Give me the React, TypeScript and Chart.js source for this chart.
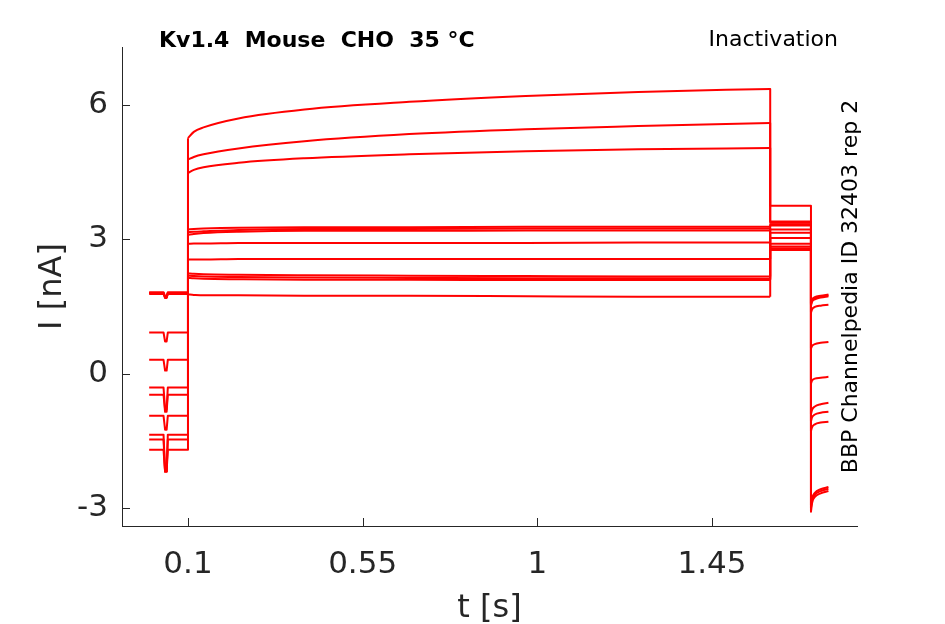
import { useEffect, useRef } from 'react'
import { Chart, registerables } from 'chart.js'

Chart.register(...registerables);

const FONT = '"DejaVu Sans", sans-serif';
const AXIS_COLOR = '#262626';
const TRACE_COLOR = '#ff0000';

const xTicks = [0.1, 0.55, 1, 1.45];
const yTicks = [-3, 0, 3, 6];

// holding segment before the prepulse, with the short capacitive dip
const holdTimes = [0, 0.037, 0.041, 0.045, 0.048, 0.1];
const holdLevels = [1.82, 1.80, 1.78, 1.80, 0.92, 0.31, -0.31, -0.47, -0.94, -1.36, -1.47, -1.70];
const dipLevels = [1.73, 1.71, 1.69, 1.71, 0.72, 0.07, -0.80, -0.85, -1.25, -2.18, -2.18, -2.19];

// prepulse (0.1 s – 1.6 s), one row per sweep
const pulseTimes = [0.1, 0.115, 0.14, 0.23, 0.4, 0.67, 0.97, 1.26, 1.6];
const pulseCurrents = [
  [5.26, 5.40, 5.50, 5.70, 5.90, 6.07, 6.20, 6.29, 6.36],
  [4.78, 4.84, 4.90, 5.03, 5.19, 5.35, 5.46, 5.53, 5.60],
  [4.48, 4.55, 4.61, 4.71, 4.81, 4.90, 4.97, 5.01, 5.04],
  [3.22, 3.23, 3.24, 3.26, 3.27, 3.27, 3.28, 3.28, 3.28],
  [3.10, 3.12, 3.14, 3.17, 3.19, 3.19, 3.20, 3.20, 3.20],
  [2.90, 2.91, 2.91, 2.92, 2.92, 2.92, 2.92, 2.93, 2.93],
  [2.55, 2.55, 2.55, 2.56, 2.56, 2.56, 2.56, 2.56, 2.56],
  [2.24, 2.23, 2.22, 2.21, 2.20, 2.19, 2.18, 2.17, 2.17],
  [2.19, 2.18, 2.17, 2.16, 2.15, 2.14, 2.13, 2.13, 2.12],
  [2.14, 2.13, 2.12, 2.11, 2.10, 2.10, 2.09, 2.09, 2.09],
  [1.77, 1.76, 1.75, 1.75, 1.74, 1.74, 1.73, 1.72, 1.72],
  [3.16, 3.17, 3.18, 3.21, 3.23, 3.23, 3.24, 3.24, 3.24],
];

// test step (1.6 s – 1.705 s)
const testTimes = [1.6, 1.705];
const testLevels = [3.75, 3.40, 3.37, 3.34, 3.31, 3.22, 3.15, 3.03, 2.90, 2.84, 2.80, 2.76];

// tail after the test step
const tailTimes = [1.705, 1.708, 1.715, 1.73, 1.75];
const tailCurrents = [
  [1.58, 1.66, 1.71, 1.74, 1.77],
  [1.52, 1.61, 1.66, 1.70, 1.73],
  [1.36, 1.44, 1.49, 1.52, 1.54],
  [0.56, 0.62, 0.66, 0.69, 0.71],
  [-0.22, -0.15, -0.11, -0.09, -0.07],
  [-0.90, -0.80, -0.73, -0.68, -0.65],
  [-1.06, -0.97, -0.91, -0.87, -0.85],
  [-1.28, -1.19, -1.13, -1.09, -1.07],
  [-2.95, -2.78, -2.66, -2.58, -2.53],
  [-3.00, -2.82, -2.70, -2.62, -2.57],
  [-3.08, -2.88, -2.75, -2.67, -2.62],
  [1.55, 1.63, 1.68, 1.72, 1.75],
];

type Pt = { x: number; y: number };

// each sweep is split into step parts (straight) and relaxation parts (smooth)
function sweepParts(i: number): { pts: Pt[]; smooth: boolean }[] {
  const h = holdLevels[i];
  const d = dipLevels[i];
  const holdVals = [h, h, d, d, h, h];
  const pulse = pulseCurrents[i];
  const tail = tailCurrents[i];
  return [
    {
      smooth: false,
      pts: [...holdTimes.map((t, k) => ({ x: t, y: holdVals[k] })), { x: pulseTimes[0], y: pulse[0] }],
    },
    { smooth: true, pts: pulseTimes.map((t, k) => ({ x: t, y: pulse[k] })) },
    {
      smooth: false,
      pts: [
        { x: testTimes[0], y: pulse[pulse.length - 1] },
        ...testTimes.map(t => ({ x: t, y: testLevels[i] })),
        { x: tailTimes[0], y: tail[0] },
      ],
    },
    { smooth: true, pts: tailTimes.map((t, k) => ({ x: t, y: tail[k] })) },
  ];
}

const decorPlugin = {
  id: 'decor',
  afterDraw(chart: Chart) {
    const { ctx, chartArea: a, scales } = chart;
    ctx.save();
    // inward tick marks
    ctx.strokeStyle = AXIS_COLOR;
    ctx.lineWidth = 1;
    ctx.beginPath();
    for (const v of yTicks) {
      const y = Math.round(scales.y.getPixelForValue(v)) + 0.5;
      ctx.moveTo(a.left, y);
      ctx.lineTo(a.left + 8, y);
    }
    for (const v of xTicks) {
      const x = Math.round(scales.x.getPixelForValue(v)) + 0.5;
      ctx.moveTo(x, a.bottom);
      ctx.lineTo(x, a.bottom - 8);
    }
    ctx.stroke();

    // axis labels
    ctx.fillStyle = AXIS_COLOR;
    ctx.font = `32px ${FONT}`;
    ctx.textAlign = 'center';
    ctx.textBaseline = 'alphabetic';
    ctx.fillText('t [s]', (a.left + a.right) / 2, 617);
    ctx.save();
    ctx.translate(61, (a.top + a.bottom) / 2);
    ctx.rotate(-Math.PI / 2);
    ctx.fillText('I [nA]', 0, 0);
    ctx.restore();

    // annotations
    ctx.fillStyle = '#000000';
    ctx.font = `bold 22px ${FONT}`;
    ctx.textAlign = 'left';
    ctx.fillText('Kv1.4  Mouse  CHO  35 °C', 159, 47);
    ctx.font = `22px ${FONT}`;
    ctx.textAlign = 'right';
    ctx.fillText('Inactivation', 838, 46);
    ctx.save();
    ctx.translate(857, 286.5);
    ctx.rotate(-Math.PI / 2);
    ctx.textAlign = 'center';
    ctx.fillText('BBP Channelpedia ID 32403 rep 2', 0, 0);
    ctx.restore();
    ctx.restore();
  },
};

export default function App() {
  const canvasRef = useRef<HTMLCanvasElement>(null);
  const chartRef = useRef<Chart | null>(null);

  useEffect(() => {
    if (!canvasRef.current) return;
    chartRef.current?.destroy();
    const datasets = holdLevels.flatMap((_, i) =>
      sweepParts(i).map((part, j) => ({
        label: `sweep ${i + 1} part ${j + 1}`,
        data: part.pts,
        showLine: true,
        borderColor: TRACE_COLOR,
        backgroundColor: TRACE_COLOR,
        borderWidth: 2,
        pointRadius: 0,
        cubicInterpolationMode: part.smooth ? ('monotone' as const) : ('default' as const),
        tension: 0,
        borderJoinStyle: 'round' as const,
      }))
    );
    chartRef.current = new Chart(canvasRef.current, {
      type: 'scatter',
      data: { datasets },
      options: {
        animation: false,
        responsive: false,
        layout: { padding: { top: 47, right: 88, left: 0, bottom: 0 } },
        plugins: {
          legend: { display: false },
          tooltip: { enabled: false },
        },
        scales: {
          x: {
            type: 'linear',
            min: -0.07,
            max: 1.8236,
            afterBuildTicks: (s: any) => { s.ticks = xTicks.map(v => ({ value: v })); },
            afterFit: (s: any) => { s.height = 98; },
            ticks: {
              autoSkip: false,
              maxRotation: 0,
              padding: 20,
              color: AXIS_COLOR,
              font: { family: FONT, size: 31 },
              callback: (v: any) => String(v),
            },
            grid: { display: false, drawTicks: false },
            border: { display: true, color: AXIS_COLOR, width: 1 },
          },
          y: {
            type: 'linear',
            min: -3.40,
            max: 7.295,
            afterBuildTicks: (s: any) => { s.ticks = yTicks.map(v => ({ value: v })); },
            afterFit: (s: any) => { s.width = 122; },
            ticks: {
              autoSkip: false,
              padding: 14,
              color: AXIS_COLOR,
              font: { family: FONT, size: 31 },
              callback: (v: any) => String(v),
            },
            grid: { display: false, drawTicks: false },
            border: { display: true, color: AXIS_COLOR, width: 1 },
          },
        },
      },
      plugins: [decorPlugin],
    });
    return () => {
      chartRef.current?.destroy();
      chartRef.current = null;
    };
  }, []);

  return (
    <div style={{ position: 'fixed', left: 0, top: 0, width: 945, height: 624, background: '#ffffff' }}>
      <canvas ref={canvasRef} width={945} height={624} />
    </div>
  );
}
